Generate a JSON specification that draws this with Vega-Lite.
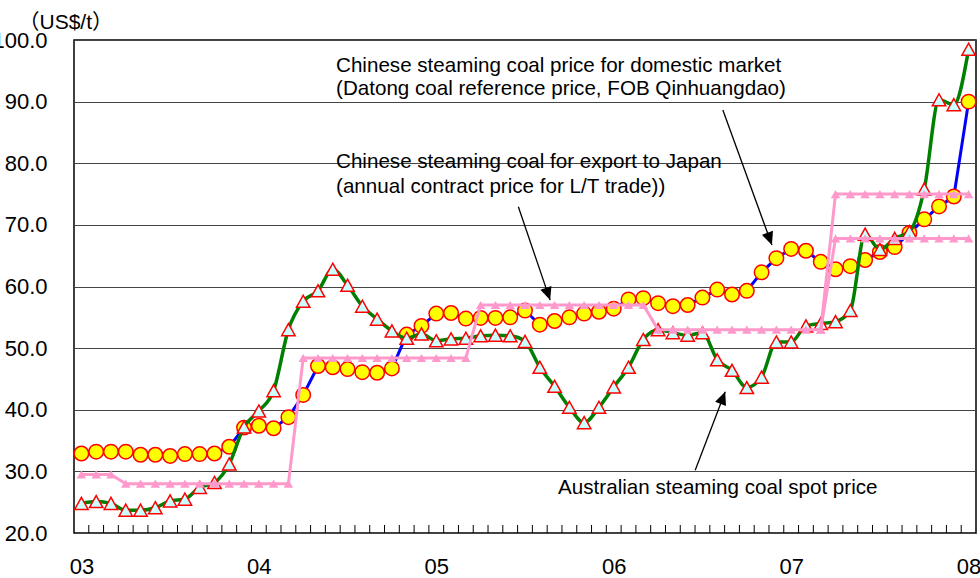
{
  "$schema": "https://vega.github.io/schema/vega-lite/v6.json",
  "width": 902,
  "height": 493,
  "autosize": {"type": "none"},
  "padding": {"left": 74, "top": 40, "right": 4, "bottom": 45},
  "config": {
    "view": {"stroke": "#000000", "strokeWidth": 1.5},
    "font": "Liberation Sans"
  },
  "datasets": {
    "prices": [
      {"month":"2003-01","i":0,"dom":32.9,"aus":24.8,"jp":29.5},
      {"month":"2003-02","i":1,"dom":33.2,"aus":25.1,"jp":29.5},
      {"month":"2003-03","i":2,"dom":33.2,"aus":24.8,"jp":29.5},
      {"month":"2003-04","i":3,"dom":33.2,"aus":23.7,"jp":28.0},
      {"month":"2003-05","i":4,"dom":32.7,"aus":23.7,"jp":28.0},
      {"month":"2003-06","i":5,"dom":32.7,"aus":24.1,"jp":28.0},
      {"month":"2003-07","i":6,"dom":32.5,"aus":25.2,"jp":28.0},
      {"month":"2003-08","i":7,"dom":32.8,"aus":25.5,"jp":28.0},
      {"month":"2003-09","i":8,"dom":32.8,"aus":27.4,"jp":28.0},
      {"month":"2003-10","i":9,"dom":32.9,"aus":28.2,"jp":28.0},
      {"month":"2003-11","i":10,"dom":34.0,"aus":31.2,"jp":28.0},
      {"month":"2003-12","i":11,"dom":37.1,"aus":37.2,"jp":28.0},
      {"month":"2004-01","i":12,"dom":37.4,"aus":39.8,"jp":28.0},
      {"month":"2004-02","i":13,"dom":37.0,"aus":43.1,"jp":28.0},
      {"month":"2004-03","i":14,"dom":38.8,"aus":53.0,"jp":28.0},
      {"month":"2004-04","i":15,"dom":42.4,"aus":57.6,"jp":48.4},
      {"month":"2004-05","i":16,"dom":47.1,"aus":59.3,"jp":48.4},
      {"month":"2004-06","i":17,"dom":46.9,"aus":62.8,"jp":48.4},
      {"month":"2004-07","i":18,"dom":46.6,"aus":60.2,"jp":48.4},
      {"month":"2004-08","i":19,"dom":46.1,"aus":56.8,"jp":48.4},
      {"month":"2004-09","i":20,"dom":46.0,"aus":54.7,"jp":48.4},
      {"month":"2004-10","i":21,"dom":46.7,"aus":52.8,"jp":48.4},
      {"month":"2004-11","i":22,"dom":52.2,"aus":51.6,"jp":48.4},
      {"month":"2004-12","i":23,"dom":53.6,"aus":52.3,"jp":48.4},
      {"month":"2005-01","i":24,"dom":55.6,"aus":51.2,"jp":48.4},
      {"month":"2005-02","i":25,"dom":55.7,"aus":51.5,"jp":48.4},
      {"month":"2005-03","i":26,"dom":54.8,"aus":51.6,"jp":48.4},
      {"month":"2005-04","i":27,"dom":54.9,"aus":52.0,"jp":57.0},
      {"month":"2005-05","i":28,"dom":54.9,"aus":52.1,"jp":57.0},
      {"month":"2005-06","i":29,"dom":55.0,"aus":52.0,"jp":57.0},
      {"month":"2005-07","i":30,"dom":56.1,"aus":51.1,"jp":57.0},
      {"month":"2005-08","i":31,"dom":53.8,"aus":46.9,"jp":57.0},
      {"month":"2005-09","i":32,"dom":54.4,"aus":43.8,"jp":57.0},
      {"month":"2005-10","i":33,"dom":55.0,"aus":40.4,"jp":57.0},
      {"month":"2005-11","i":34,"dom":55.6,"aus":37.9,"jp":57.0},
      {"month":"2005-12","i":35,"dom":55.9,"aus":40.4,"jp":57.0},
      {"month":"2006-01","i":36,"dom":56.4,"aus":43.7,"jp":57.0},
      {"month":"2006-02","i":37,"dom":57.9,"aus":46.9,"jp":57.0},
      {"month":"2006-03","i":38,"dom":58.1,"aus":51.4,"jp":57.0},
      {"month":"2006-04","i":39,"dom":57.3,"aus":53.0,"jp":53.0},
      {"month":"2006-05","i":40,"dom":56.8,"aus":52.5,"jp":53.0},
      {"month":"2006-06","i":41,"dom":57.0,"aus":52.1,"jp":53.0},
      {"month":"2006-07","i":42,"dom":58.2,"aus":52.5,"jp":53.0},
      {"month":"2006-08","i":43,"dom":59.5,"aus":48.1,"jp":53.0},
      {"month":"2006-09","i":44,"dom":58.7,"aus":46.4,"jp":53.0},
      {"month":"2006-10","i":45,"dom":59.3,"aus":43.6,"jp":53.0},
      {"month":"2006-11","i":46,"dom":62.3,"aus":45.3,"jp":53.0},
      {"month":"2006-12","i":47,"dom":64.6,"aus":51.0,"jp":53.0},
      {"month":"2007-01","i":48,"dom":66.1,"aus":51.0,"jp":53.0},
      {"month":"2007-02","i":49,"dom":65.8,"aus":53.6,"jp":53.0},
      {"month":"2007-03","i":50,"dom":64.0,"aus":54.0,"jp":53.0,"jp2":53.0},
      {"month":"2007-04","i":51,"dom":62.8,"aus":54.3,"jp":75.0,"jp2":67.8},
      {"month":"2007-05","i":52,"dom":63.3,"aus":56.1,"jp":75.0,"jp2":67.8},
      {"month":"2007-06","i":53,"dom":64.3,"aus":68.5,"jp":75.0,"jp2":67.8},
      {"month":"2007-07","i":54,"dom":65.6,"aus":66.0,"jp":75.0,"jp2":67.8},
      {"month":"2007-08","i":55,"dom":66.4,"aus":67.8,"jp":75.0,"jp2":67.8},
      {"month":"2007-09","i":56,"dom":68.7,"aus":68.9,"jp":75.0,"jp2":67.8},
      {"month":"2007-10","i":57,"dom":70.9,"aus":75.8,"jp":75.0,"jp2":67.8},
      {"month":"2007-11","i":58,"dom":73.0,"aus":90.3,"jp":75.0,"jp2":67.8},
      {"month":"2007-12","i":59,"dom":74.6,"aus":89.5,"jp":75.0,"jp2":67.8},
      {"month":"2008-01","i":60,"dom":90.0,"aus":98.5,"jp":75.0,"jp2":67.8}
    ],
    "notes": [
      {"label":"Chinese steaming coal price for domestic market","tx":17.22,"ty":94.85},
      {"label":"(Datong coal reference price, FOB Qinhuangdao)","tx":17.22,"ty":91.07},
      {"label":"Chinese steaming coal for export to Japan","tx":17.22,"ty":79.17},
      {"label":"(annual contract price for L/T trade))","tx":17.22,"ty":75.21},
      {"label":"Australian steaming coal spot price","tx":32.24,"ty":26.3}
    ],
    "arrows": [
      {"name":"dom","ax":43.38,"ay":88.64,"bx":46.70,"by":66.72},
      {"name":"jp","ax":29.55,"ay":72.94,"bx":31.70,"by":57.79},
      {"name":"aus","ax":41.51,"ay":30.19,"bx":43.54,"by":42.91}
    ]
  },
  "layer": [
    {
      "data": {"name": "prices"},
      "transform": [{"filter": "datum.i < 60"}],
      "mark": {"type": "rule", "color": "#000000", "strokeWidth": 1, "xOffset": 7.39},
      "encoding": {
        "x": {
          "field": "i", "type": "quantitative",
          "scale": {"domain": [-0.5, 60.5], "nice": false, "zero": false},
          "axis": {
            "orient": "bottom",
            "values": [0,12,24,36,48,60],
            "tickCount": 200,
            "labelExpr": "'0' + (3 + datum.value / 12)",
            "labelOverlap": false, "labelFlush": false, "labelBound": false,
            "grid": false, "domain": false, "ticks": false,
            "labelFont": "Liberation Sans", "labelFontSize": 22, "labelColor": "#000000",
            "labelPadding": 23, "labelBaseline": "top",
            "title": null
          }
        },
        "y": {
          "datum": 20, "type": "quantitative",
          "scale": {"domain": [20, 100], "nice": false, "zero": false},
          "axis": {
            "values": [20,30,40,50,60,70,80,90,100],
            "tickCount": 200,
            "grid": true, "gridColor": "#444444", "gridWidth": 1,
            "domain": false, "ticks": false,
            "labelFont": "Liberation Sans", "labelFontSize": 22, "labelColor": "#000000",
            "labelPadding": 27,
            "title": "（US$/t）",
            "titleAngle": 0, "titleAlign": "left", "titleBaseline": "alphabetic",
            "titleX": -56, "titleY": -12,
            "titleFont": "Liberation Sans, Noto Sans CJK JP", "titleFontSize": 21,
            "titleFontWeight": "normal", "titleColor": "#000000"
          }
        },
        "y2": {"datum": 21.3}
      }
    },
    {
      "data": {"name": "prices"},
      "mark": {"type": "line", "color": "#0000FF", "strokeWidth": 3},
      "encoding": {
        "x": {"field": "i", "type": "quantitative"},
        "y": {"field": "dom", "type": "quantitative"}
      }
    },
    {
      "data": {"name": "prices"},
      "mark": {"type": "point", "shape": "circle", "filled": true, "fill": "#FFFF00", "stroke": "#FF0000", "strokeWidth": 1.5, "size": 210, "opacity": 1},
      "encoding": {
        "x": {"field": "i", "type": "quantitative"},
        "y": {"field": "dom", "type": "quantitative"}
      }
    },
    {
      "data": {"name": "prices"},
      "mark": {"type": "line", "color": "#008000", "strokeWidth": 3.5, "interpolate": "monotone"},
      "encoding": {
        "x": {"field": "i", "type": "quantitative"},
        "y": {"field": "aus", "type": "quantitative"}
      }
    },
    {
      "data": {"name": "prices"},
      "mark": {"type": "point", "shape": "M0,-0.9L1,0.9L-1,0.9Z", "filled": true, "fill": "#CCFFFF", "stroke": "#FF0000", "strokeWidth": 1.5, "size": 180, "opacity": 1},
      "encoding": {
        "x": {"field": "i", "type": "quantitative"},
        "y": {"field": "aus", "type": "quantitative"}
      }
    },
    {
      "data": {"name": "prices"},
      "mark": {"type": "line", "color": "#FF99CC", "strokeWidth": 3},
      "encoding": {
        "x": {"field": "i", "type": "quantitative"},
        "y": {"field": "jp", "type": "quantitative"}
      }
    },
    {
      "data": {"name": "prices"},
      "mark": {"type": "point", "shape": "triangle-up", "filled": true, "fill": "#FF99CC", "strokeWidth": 0, "size": 90, "opacity": 1},
      "encoding": {
        "x": {"field": "i", "type": "quantitative"},
        "y": {"field": "jp", "type": "quantitative"}
      }
    },
    {
      "data": {"name": "prices"},
      "transform": [{"filter": "isValid(datum.jp2)"}],
      "mark": {"type": "line", "color": "#FF99CC", "strokeWidth": 3},
      "encoding": {
        "x": {"field": "i", "type": "quantitative"},
        "y": {"field": "jp2", "type": "quantitative"}
      }
    },
    {
      "data": {"name": "prices"},
      "transform": [{"filter": "isValid(datum.jp2)"}],
      "mark": {"type": "point", "shape": "triangle-up", "filled": true, "fill": "#FF99CC", "strokeWidth": 0, "size": 90, "opacity": 1},
      "encoding": {
        "x": {"field": "i", "type": "quantitative"},
        "y": {"field": "jp2", "type": "quantitative"}
      }
    },
    {
      "data": {"name": "notes"},
      "mark": {"type": "text", "align": "left", "baseline": "alphabetic", "font": "Liberation Sans", "fontSize": 20.6, "color": "#000000"},
      "encoding": {
        "x": {"field": "tx", "type": "quantitative"},
        "y": {"field": "ty", "type": "quantitative"},
        "text": {"field": "label"}
      }
    },
    {
      "data": {"name": "arrows"},
      "mark": {"type": "rule", "color": "#000000", "strokeWidth": 1.3},
      "encoding": {
        "x": {"field": "ax", "type": "quantitative"},
        "y": {"field": "ay", "type": "quantitative"},
        "x2": {"field": "bx"},
        "y2": {"field": "by"}
      }
    },
    {
      "data": {"name": "arrows"},
      "transform": [{"filter": "datum.name === 'dom'"}],
      "mark": {"type": "point", "shape": "M0,0L-0.9,2L0.9,2Z", "filled": true, "fill": "#000000", "strokeWidth": 0, "size": 169, "angle": 160, "opacity": 1},
      "encoding": {
        "x": {"field": "bx", "type": "quantitative"},
        "y": {"field": "by", "type": "quantitative"}
      }
    },
    {
      "data": {"name": "arrows"},
      "transform": [{"filter": "datum.name === 'jp'"}],
      "mark": {"type": "point", "shape": "M0,0L-0.9,2L0.9,2Z", "filled": true, "fill": "#000000", "strokeWidth": 0, "size": 169, "angle": 161, "opacity": 1},
      "encoding": {
        "x": {"field": "bx", "type": "quantitative"},
        "y": {"field": "by", "type": "quantitative"}
      }
    },
    {
      "data": {"name": "arrows"},
      "transform": [{"filter": "datum.name === 'aus'"}],
      "mark": {"type": "point", "shape": "M0,0L-0.9,2L0.9,2Z", "filled": true, "fill": "#000000", "strokeWidth": 0, "size": 169, "angle": 21, "opacity": 1},
      "encoding": {
        "x": {"field": "bx", "type": "quantitative"},
        "y": {"field": "by", "type": "quantitative"}
      }
    }
  ]
}
